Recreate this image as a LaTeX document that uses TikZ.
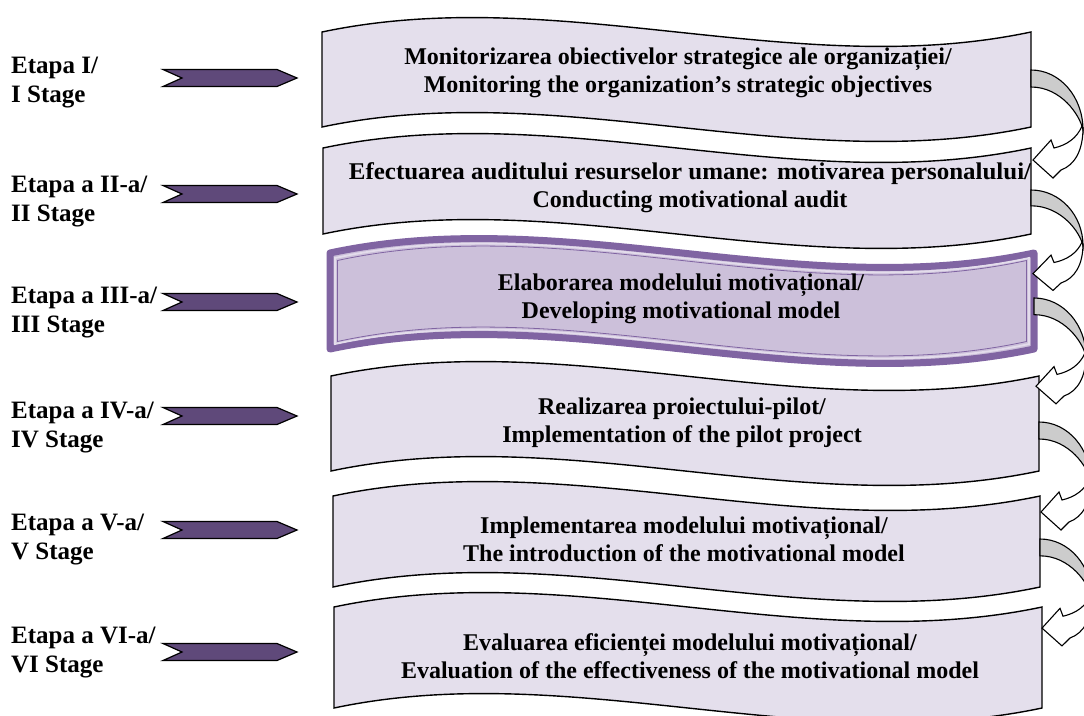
\documentclass[tikz,border=0pt]{standalone}
\usepackage{fontspec}
\usepackage{graphicx}
\setmainfont{Liberation Serif}
\definecolor{boxfill}{RGB}{228,223,236}
\definecolor{hifill}{RGB}{204,192,218}
\definecolor{hiborder}{RGB}{128,100,162}
\definecolor{chevfill}{RGB}{95,73,122}
\definecolor{backgray}{RGB}{204,204,204}
\tikzset{
  stagebox/.style={fill=boxfill, draw=black, line width=1.4pt, line join=miter},
  chevstyle/.style={fill=chevfill, draw=black, line width=1.2pt},
  curvstyle/.style={draw=black, line width=1.1pt, line join=miter},
  labeltext/.style={anchor=west, align=left, font=\fontsize{25}{29}\selectfont\bfseries, inner sep=0pt},
  boxtext/.style={align=center, font=\fontsize{24}{28}\selectfont\bfseries, inner sep=0pt}
}
\newcommand{\wbox}[6]{%
  \pgfmathsetmacro\xa{#1+(#2-#1)/3}%
  \pgfmathsetmacro\xb{#1+2*(#2-#1)/3}%
  \path[#6] (#1,#3) .. controls (\xa,#3-#5) and (\xb,#3+#5) .. (#2,#3) -- (#2,#4)
     .. controls (\xb,#4+#5) and (\xa,#4-#5) .. (#1,#4) -- cycle;}
\newcommand{\chevron}[1]{%
  \draw[chevstyle] (163,#1-8.5) -- (277,#1-8.5) -- (297,#1) -- (277,#1+8.5)
     -- (163,#1+8.5) -- (182,#1) -- cycle;}
\newcommand{\curvarrow}[3]{%
  \begin{scope}[shift={(#1,#2)}, yscale=#3]
    \draw[curvstyle, fill=white] (52,58) .. controls (52,80) and (44,95) .. (30,100)
       -- (22,108) -- (2,90) -- (20,70) -- (23,78)
       .. controls (36,75) and (46,68) .. (51,56) -- cycle;
    \draw[curvstyle, fill=backgray] (0,0) .. controls (29,0) and (52,27) .. (52,60)
       .. controls (49,45) and (30,17) .. (0,17) -- cycle;
  \end{scope}}
\begin{document}
\begin{tikzpicture}[x=1pt, y=-1pt]
\useasboundingbox (0,0) rectangle (1084,715);
\fill[white] (0,0) rectangle (1084,715);

% stage boxes
\wbox{322}{1031}{32}{127}{50}{stagebox}
\wbox{323}{1031}{148}{234}{50}{stagebox}
\wbox{330}{1034}{253}{349}{50}{fill=hifill, draw=hiborder, line width=7pt, line join=round}
\wbox{335}{1029}{258}{344}{50}{draw=white!45!hifill, line width=1.8pt}
\wbox{337.5}{1026.5}{260.5}{341.5}{50}{draw=hiborder, line width=0.8pt}
\wbox{331}{1039}{376}{471}{50}{stagebox}
\wbox{333}{1040}{496}{587}{50}{stagebox}
\wbox{334}{1042}{607}{708}{50}{stagebox}

% curved arrows between boxes
\curvarrow{1031}{70}{1}
\curvarrow{1031}{190}{0.93}
\curvarrow{1034}{298}{0.98}
\curvarrow{1039}{422}{1}
\curvarrow{1040}{539}{0.99}

% chevrons
\chevron{78}
\chevron{194}
\chevron{302}
\chevron{416}
\chevron{530}
\chevron{652}

% stage labels
\node[labeltext] (l1) at (11,82.5) {Etapa I/\\I Stage};
\node[labeltext] (l2) at (11,201.5) {Etapa a II-a/\\II Stage};
\node[labeltext] (l3) at (11,313) {Etapa a III-a/\\III Stage};
\node[labeltext] (l4) at (11,428) {Etapa a IV-a/\\IV Stage};
\node[labeltext] (l5) at (11,540) {Etapa a V-a/\\V Stage};
\node[labeltext] (l6) at (11,652.5) {Etapa a VI-a/\\VI Stage};

% box texts
\node[boxtext] (t1) at (678,73) {Monitorizarea obiectivelor strategice ale organizației/\\Monitoring the organization’s strategic objectives};
\node[boxtext] (t2) at (690,188) {\scalebox{1.04}[1]{Efectuarea auditului resurselor umane: motivarea personalului/}\\Conducting motivational audit};
\node[boxtext] (t3) at (681,299) {Elaborarea modelului motivațional/\\Developing motivational model};
\node[boxtext] (t4) at (682,423) {Realizarea proiectului-pilot/\\Implementation of the pilot project};
\node[boxtext] (t5) at (684,539) {Implementarea modelului motivațional/\\The introduction of the motivational model};
\node[boxtext] (t6) at (690,656) {Evaluarea eficienței modelului motivațional/\\Evaluation of the effectiveness of the motivational model};
\end{tikzpicture}
\end{document}
